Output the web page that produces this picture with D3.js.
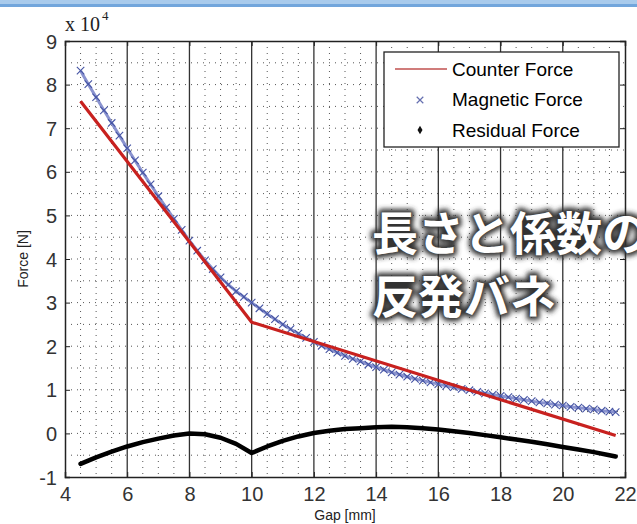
<!DOCTYPE html>
<html>
    <head>
        <meta charset="utf-8">
        <script src="https://d3js.org/d3.v7.min.js"></script>
        <style>
            body { margin:0; background:#fff; }
            svg { display:block; }
            .tick-label { font-family:"Liberation Sans", Arial, sans-serif; font-size:20px; fill:#333; }
            .axis-title { font-family:"Liberation Sans", Arial, sans-serif; font-size:14px; fill:#222; }
            .legend text { font-family:"Liberation Sans", Arial, sans-serif; font-size:19px; fill:#000; }
            .jp { font-family:"Noto Sans CJK JP", sans-serif; font-weight:700; font-size:46px; }
        </style>
    </head>
    <body>
        <div id="chart"></div>
        <script>
            // values in units of 1e4 N
            var magGap = [4.5, 4.75, 5, 5.25, 5.5, 5.75, 6, 6.25, 6.5, 6.75, 7, 7.25, 7.5, 7.75, 8, 8.25, 8.5, 8.75,
                          9, 9.25, 9.5, 9.75, 10, 10.25, 10.5, 10.75, 11, 11.25, 11.5, 11.75, 12, 12.25, 12.5, 12.75,
                          13, 13.25, 13.5, 13.75, 14, 14.25, 14.5, 14.75, 15, 15.25, 15.5, 15.75, 16, 16.25, 16.5, 16.75,
                          17, 17.25, 17.5, 17.75, 18, 18.25, 18.5, 18.75, 19, 19.25, 19.5, 19.75, 20, 20.25, 20.5, 20.75,
                          21, 21.25, 21.5, 21.7];
            var magnetic = [8.32, 8.01, 7.71, 7.41, 7.12, 6.83, 6.54, 6.26, 5.98, 5.71, 5.44, 5.18, 4.92, 4.67, 4.42, 4.19, 3.97, 3.77,
                            3.58, 3.41, 3.26, 3.13, 3.00, 2.87, 2.74, 2.62, 2.50, 2.39, 2.29, 2.19, 2.10, 2.01, 1.93, 1.85,
                            1.78, 1.71, 1.65, 1.58, 1.52, 1.46, 1.40, 1.35, 1.30, 1.25, 1.21, 1.17, 1.13, 1.09, 1.06, 1.02,
                            0.99, 0.95, 0.92, 0.89, 0.86, 0.83, 0.80, 0.77, 0.74, 0.71, 0.69, 0.66, 0.64, 0.61, 0.59, 0.57,
                            0.55, 0.52, 0.50, 0.49];
            var resGap = [4.5, 5, 5.5, 6, 6.5, 7, 7.5, 8, 8.5, 9, 9.5, 10, 10.5, 11, 11.5, 12, 12.5, 13, 13.5, 14,
                          14.5, 15, 15.5, 16, 16.5, 17, 17.5, 18, 18.5, 19, 19.5, 20, 20.5, 21, 21.5, 21.7];
            var residual = [-0.70, -0.55, -0.42, -0.30, -0.20, -0.12, -0.05, 0.00, -0.02, -0.10, -0.24, -0.45, -0.30, -0.17,
                            -0.07, 0.01, 0.06, 0.10, 0.12, 0.14, 0.15, 0.14, 0.12, 0.09, 0.05, 0.01, -0.04, -0.09, -0.14,
                            -0.19, -0.25, -0.31, -0.37, -0.43, -0.50, -0.53];
            var counterGap = [4.5, 10, 21.7];
            var counter = [7.62, 2.55, -0.05];

            var xTicks = [4, 6, 8, 10, 12, 14, 16, 18, 20, 22];
            var yTicks = [-1, 0, 1, 2, 3, 4, 5, 6, 7, 8, 9];
            var legendNames = ["Counter Force", "Magnetic Force", "Residual Force"];

            var W = 637, H = 524;
            var margin = {top: 41, right: 12, bottom: 47, left: 65};

            var svg = d3.select("#chart").append("svg")
                .attr("width", W).attr("height", H);

            // window strip at the top of the screenshot
            svg.append("rect").attr("x", 0).attr("y", 0).attr("width", W).attr("height", 5).attr("fill", "#a9cbec");
            svg.append("rect").attr("x", 0).attr("y", 4).attr("width", W).attr("height", 3).attr("fill", "#72a6dc");

            var x = d3.scaleLinear().domain([4, 22]).range([margin.left, W - margin.right]);
            var y = d3.scaleLinear().domain([-1, 9]).range([H - margin.bottom, margin.top]);

            var plot = svg.append("g");

            // dotted grid every 0.5
            var gx = d3.range(4.5, 22, 0.5).filter(function(d) { return d % 2 !== 0; });
            var gy = d3.range(-0.5, 9, 0.5);
            plot.selectAll(".gx").data(gx).enter().append("line")
                .attr("x1", function(d) { return x(d); }).attr("x2", function(d) { return x(d); })
                .attr("y1", y(9)).attr("y2", y(-1))
                .attr("stroke", "#555").attr("stroke-width", 1).attr("stroke-dasharray", "1,5");
            plot.selectAll(".gy").data(gy).enter().append("line")
                .attr("y1", function(d) { return y(d); }).attr("y2", function(d) { return y(d); })
                .attr("x1", x(4)).attr("x2", x(22))
                .attr("stroke", "#555").attr("stroke-width", 1).attr("stroke-dasharray", "1,5");

            // solid vertical lines at major x ticks
            plot.selectAll(".vx").data(xTicks.slice(1, -1)).enter().append("line")
                .attr("x1", function(d) { return x(d); }).attr("x2", function(d) { return x(d); })
                .attr("y1", y(9)).attr("y2", y(-1))
                .attr("stroke", "#333").attr("stroke-width", 1.3);

            // axes
            var fmt = function(d) { return String(d); };
            var xAxis = svg.append("g").attr("transform", "translate(0," + y(-1) + ")")
                .call(d3.axisBottom(x).tickValues(xTicks).tickFormat(fmt).tickSize(-5).tickPadding(10));
            var yAxis = svg.append("g").attr("transform", "translate(" + x(4) + ",0)")
                .call(d3.axisLeft(y).tickValues(yTicks).tickFormat(fmt).tickSize(-5).tickPadding(8));
            svg.append("g").attr("transform", "translate(" + x(22) + ",0)")
                .call(d3.axisRight(y).tickValues(yTicks).tickSize(-5).tickFormat(""));
            svg.append("g").attr("transform", "translate(0," + y(9) + ")")
                .call(d3.axisTop(x).tickValues(xTicks).tickSize(-5).tickFormat(""));
            svg.selectAll(".domain").attr("stroke", "#222").attr("stroke-width", 1.5);
            svg.selectAll(".tick line").attr("stroke", "#222");
            svg.selectAll(".tick text").attr("class", "tick-label").attr("font-size", null).attr("font-family", null);
            yAxis.selectAll(".tick text").attr("dy", "0.35em");

            svg.append("text").attr("class", "axis-title")
                .attr("x", x(13)).attr("y", H - 4).attr("text-anchor", "middle").text("Gap [mm]");
            svg.append("text").attr("class", "axis-title")
                .attr("transform", "translate(28," + y(4) + ") rotate(-90)")
                .attr("text-anchor", "middle").text("Force [N]");

            var mult = svg.append("text").attr("x", 65).attr("y", 31)
                .attr("font-family", "Liberation Serif, serif").attr("font-size", 20).attr("fill", "#222");
            mult.append("tspan").text("x 10");
            mult.append("tspan").attr("dy", -11).attr("dx", 2).attr("font-size", 13).text("4");

            // series
            var line = d3.line().x(function(d) { return x(d[0]); }).y(function(d) { return y(d[1]); });

            var resPts = d3.zip(resGap, residual);
            plot.append("path").datum(resPts).attr("d", line)
                .attr("fill", "none").attr("stroke", "#000").attr("stroke-width", 4.5)
                .attr("stroke-linejoin", "round").attr("stroke-linecap", "round");

            var magPts = d3.zip(magGap, magnetic);
            plot.append("path").datum(magPts).attr("d", line)
                .attr("fill", "none").attr("stroke", "#8a93cf").attr("stroke-width", 3);
            var cross = d3.symbol().type(d3.symbolX).size(38);
            plot.selectAll(".mag").data(magPts).enter().append("path")
                .attr("d", cross)
                .attr("transform", function(d) { return "translate(" + x(d[0]) + "," + y(d[1]) + ")"; })
                .attr("fill", "none").attr("stroke", "#4453a3").attr("stroke-width", 1.1);

            plot.append("path").datum(d3.zip(counterGap, counter)).attr("d", line)
                .attr("fill", "none").attr("stroke", "#c8211f").attr("stroke-width", 3.2)
                .attr("stroke-linejoin", "round");

            // legend
            var lg = svg.append("g").attr("class", "legend");
            lg.append("rect").attr("x", 384).attr("y", 52).attr("width", 235).attr("height", 95)
                .attr("fill", "#fff").attr("stroke", "#222").attr("stroke-width", 1.3);
            var rows = lg.selectAll(".row").data(legendNames).enter().append("g")
                .attr("transform", function(d, i) { return "translate(0," + (69 + i * 30.5) + ")"; });
            rows.append("text").attr("x", 452).attr("y", 0).attr("dy", "0.35em").text(function(d) { return d; });
            lg.append("line").attr("x1", 395).attr("x2", 447).attr("y1", 69).attr("y2", 69)
                .attr("stroke", "#c0504f").attr("stroke-width", 1.5);
            lg.append("path").attr("d", d3.symbol().type(d3.symbolX).size(30))
                .attr("transform", "translate(420,100)").attr("fill", "none").attr("stroke", "#6670b0").attr("stroke-width", 1.2);
            lg.append("path").attr("d", d3.symbol().type(d3.symbolDiamond).size(22))
                .attr("transform", "translate(420,130)").attr("fill", "#111");

            // overlaid caption (runs off the right edge, as in the source)
            var defs = svg.append("defs");
            var f = defs.append("filter").attr("id", "glow").attr("x", "-10%").attr("y", "-30%").attr("width", "120%").attr("height", "160%");
            f.append("feGaussianBlur").attr("stdDeviation", 2.4);
            var cap = svg.append("g");
            var lines = [["長さと係数の", 250], ["反発バネ", 313]];
            lines.forEach(function(l) {
                cap.append("text").attr("class", "jp").attr("x", 372).attr("y", l[1])
                    .attr("fill", "#333").attr("stroke", "#333").attr("stroke-width", 7)
                    .attr("stroke-linejoin", "round").attr("filter", "url(#glow)").text(l[0]);
                cap.append("text").attr("class", "jp").attr("x", 372).attr("y", l[1])
                    .attr("fill", "#fff").text(l[0]);
            });
        </script>
    </body>
</html>
